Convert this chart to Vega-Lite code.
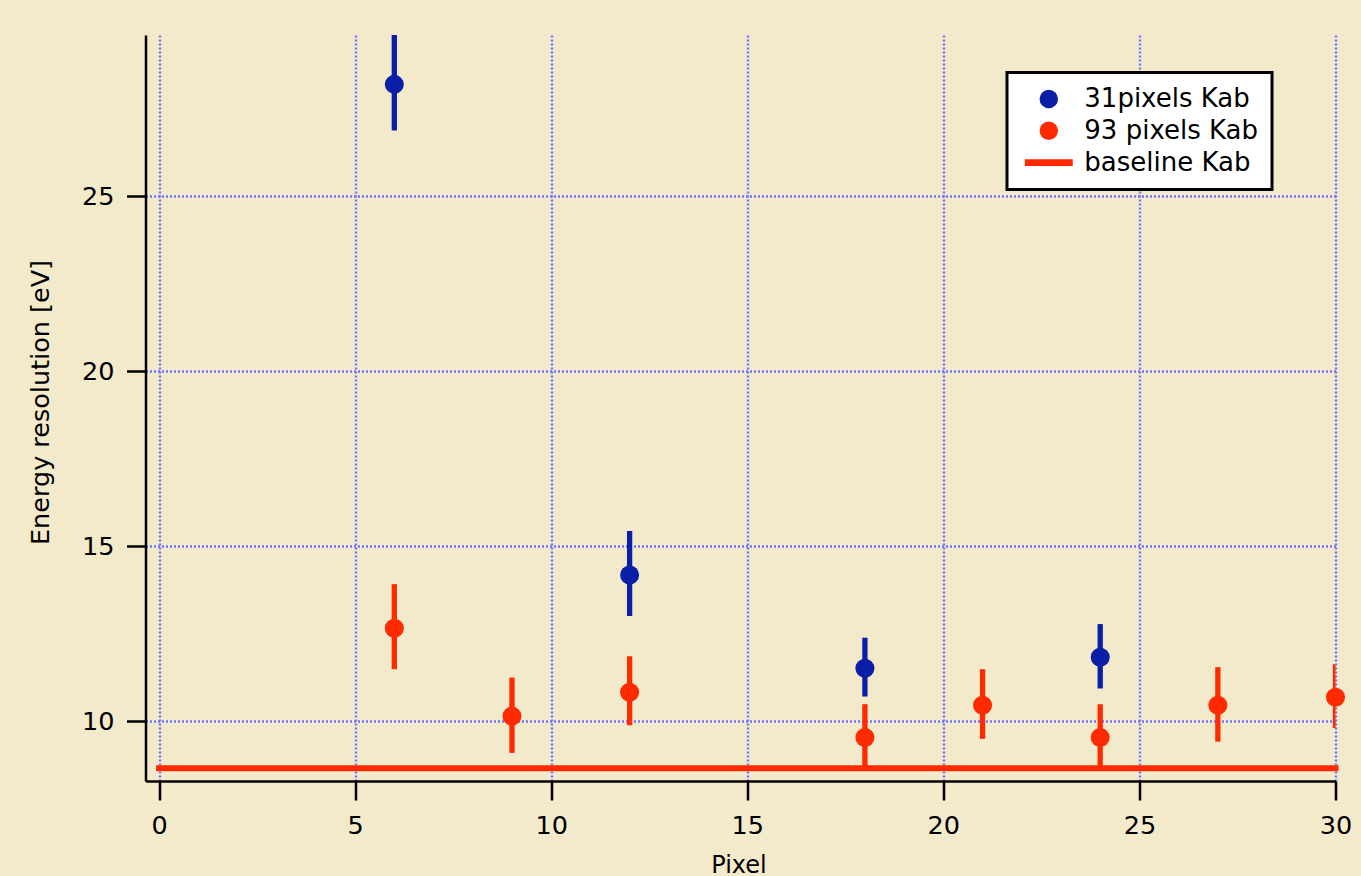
{
  "$schema": "https://vega.github.io/schema/vega-lite/v6.json",
  "width": 1190,
  "height": 746,
  "autosize": {"type": "none"},
  "padding": {"left": 145.5, "top": 35, "right": 25.5, "bottom": 95},
  "background": "#f3e9cb",
  "config": {
    "view": {"stroke": null},
    "font": "DejaVu Sans",
    "legend": {"strokeWidth": 3},
    "axis": {
      "domainColor": "black",
      "domainWidth": 2.5,
      "tickColor": "black",
      "tickWidth": 2.5,
      "tickSize": 19,
      "labelFont": "DejaVu Sans",
      "labelFontSize": 25.5,
      "labelColor": "black",
      "labelFlush": false,
      "labelOverlap": false,
      "titleFont": "DejaVu Sans",
      "titleColor": "black",
      "titleFontWeight": "normal",
      "grid": true,
      "gridColor": "#6f74ff",
      "gridDash": [2, 2],
      "gridWidth": 2.4
    }
  },
  "datasets": {
    "resolution": [
      {"pixel": 6, "series": "31pixels Kab", "res": 28.19, "lo": 26.87, "hi": 29.6},
      {"pixel": 12, "series": "31pixels Kab", "res": 14.17, "lo": 13.0, "hi": 15.43},
      {"pixel": 18, "series": "31pixels Kab", "res": 11.51, "lo": 10.7, "hi": 12.38},
      {"pixel": 24, "series": "31pixels Kab", "res": 11.82, "lo": 10.93, "hi": 12.77},
      {"pixel": 6, "series": "93 pixels Kab", "res": 12.65, "lo": 11.48, "hi": 13.91},
      {"pixel": 9, "series": "93 pixels Kab", "res": 10.14, "lo": 9.09, "hi": 11.24},
      {"pixel": 12, "series": "93 pixels Kab", "res": 10.82, "lo": 9.88, "hi": 11.85},
      {"pixel": 18, "series": "93 pixels Kab", "res": 9.53, "lo": 8.58, "hi": 10.48},
      {"pixel": 21, "series": "93 pixels Kab", "res": 10.45, "lo": 9.49, "hi": 11.48},
      {"pixel": 24, "series": "93 pixels Kab", "res": 9.53, "lo": 8.58, "hi": 10.48},
      {"pixel": 27, "series": "93 pixels Kab", "res": 10.45, "lo": 9.41, "hi": 11.54},
      {"pixel": 30, "series": "93 pixels Kab", "res": 10.68, "lo": 9.8, "hi": 11.62}
    ],
    "baseline": [
      {"start": 0, "end": 30, "level": 8.65}
    ]
  },
  "layer": [
    {
      "data": {"name": "baseline"},
      "mark": {"type": "rule", "color": "#ff2a00", "strokeWidth": 6, "strokeCap": "square"},
      "encoding": {
        "x": {
          "field": "start",
          "type": "quantitative",
          "scale": {"domain": [-0.345, 30], "nice": false, "zero": false},
          "axis": {
            "title": "Pixel",
            "values": [0, 5, 10, 15, 20, 25, 30],
            "labelPadding": 13.5,
            "titleFontSize": 24,
            "titleX": 593,
            "titleY": 91.5,
            "titleBaseline": "alphabetic"
          }
        },
        "x2": {"field": "end"},
        "y": {
          "field": "level",
          "type": "quantitative",
          "scale": {"domain": [8.286, 29.6], "nice": false, "zero": false},
          "axis": {
            "title": "Energy resolution [eV]",
            "values": [10, 15, 20, 25],
            "labelPadding": 12.5,
            "titleFontSize": 25.5,
            "titleX": -97,
            "titleY": 367,
            "titleBaseline": "alphabetic"
          }
        }
      }
    },
    {
      "data": {"name": "resolution"},
      "mark": {"type": "rule", "strokeWidth": 5.3, "clip": true},
      "encoding": {
        "x": {
          "field": "pixel",
          "type": "quantitative",
          "axis": {
            "title": "Pixel",
            "values": [0, 5, 10, 15, 20, 25, 30],
            "labelPadding": 13.5,
            "titleFontSize": 24,
            "titleX": 593,
            "titleY": 91.5,
            "titleBaseline": "alphabetic"
          }
        },
        "y": {
          "field": "lo",
          "type": "quantitative",
          "axis": {
            "title": "Energy resolution [eV]",
            "values": [10, 15, 20, 25],
            "labelPadding": 12.5,
            "titleFontSize": 25.5,
            "titleX": -97,
            "titleY": 367,
            "titleBaseline": "alphabetic"
          }
        },
        "y2": {"field": "hi"},
        "color": {
          "condition": {"test": "datum.series === '31pixels Kab'", "value": "#0a1ea6"},
          "value": "#ff2a00"
        }
      }
    },
    {
      "data": {"name": "resolution"},
      "mark": {"type": "point", "filled": true, "size": 361, "opacity": 1},
      "encoding": {
        "x": {
          "field": "pixel",
          "type": "quantitative",
          "axis": {
            "title": "Pixel",
            "values": [0, 5, 10, 15, 20, 25, 30],
            "labelPadding": 13.5,
            "titleFontSize": 24,
            "titleX": 593,
            "titleY": 91.5,
            "titleBaseline": "alphabetic"
          }
        },
        "y": {
          "field": "res",
          "type": "quantitative",
          "axis": {
            "title": "Energy resolution [eV]",
            "values": [10, 15, 20, 25],
            "labelPadding": 12.5,
            "titleFontSize": 25.5,
            "titleX": -97,
            "titleY": 367,
            "titleBaseline": "alphabetic"
          }
        },
        "color": {
          "field": "series",
          "type": "nominal",
          "scale": {
            "domain": ["31pixels Kab", "93 pixels Kab", "baseline Kab"],
            "range": ["#0a1ea6", "#ff2a00", "#ff2a00"]
          },
          "legend": {
            "title": null,
            "orient": "none",
            "legendX": 861.5,
            "legendY": 37.5,
            "fillColor": "white",
            "strokeColor": "black",
            "padding": 13.5,
            "symbolOffset": 15.3,
            "symbolSize": 340,
            "symbolOpacity": 1,
            "symbolStrokeWidth": 0,
            "labelFont": "DejaVu Sans",
            "labelFontSize": 26,
            "labelColor": "black",
            "labelLimit": 400,
            "labelOffset": 22.5,
            "rowPadding": 5.8
          }
        },
        "shape": {
          "field": "series",
          "type": "nominal",
          "scale": {
            "domain": ["31pixels Kab", "93 pixels Kab", "baseline Kab"],
            "range": ["circle", "circle", "M-2.6,-0.36H2.6V0.36H-2.6Z"]
          }
        }
      }
    }
  ]
}
